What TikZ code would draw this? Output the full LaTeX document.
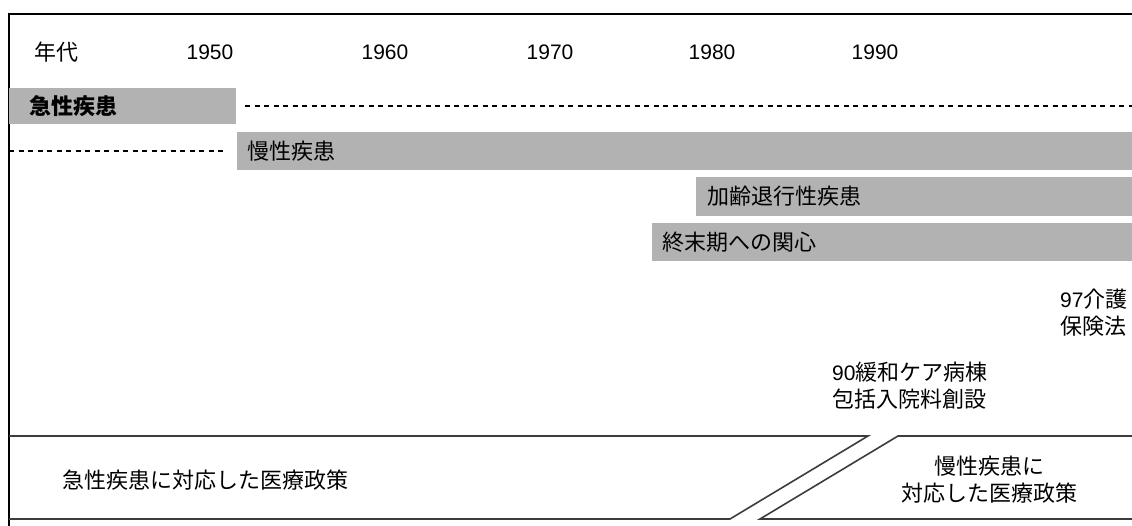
\documentclass[tikz,border=0pt]{standalone}
\usepackage{fontspec}
\setmainfont{Liberation Sans}
\newfontfamily\jpfamily{Noto Sans CJK JP}
\newcommand\jp{\jpfamily\fontsize{22}{27}\selectfont}
\usetikzlibrary{positioning}
\definecolor{bargray}{RGB}{178,178,178}
\definecolor{linegray}{RGB}{60,60,60}
\begin{document}
\begin{tikzpicture}
    [x=1pt, y=-1pt,
     txt/.style={inner sep=0pt, font=\fontsize{21}{27}\selectfont},
     barlabel/.style={txt, anchor=west},
     yearlabel/.style={txt},
     dotline/.style={line width=2.2pt, dash pattern=on 5pt off 4.5pt},
     band/.style={draw=linegray, line width=1.6pt}]
    \useasboundingbox (0,0) rectangle (1132,526);
    % frame
    \draw[line width=1.2pt] (9,526) -- (9,14) -- (1132,14);
    % time axis
    \node[barlabel] (era) at (34,52) {\jp 年代};
    \node[yearlabel] (y1950) at (210,52) {1950};
    \node[yearlabel] (y1960) at (385,52) {1960};
    \node[yearlabel] (y1970) at (550,52) {1970};
    \node[yearlabel] (y1980) at (712,52) {1980};
    \node[yearlabel] (y1990) at (875,52) {1990};
    % disease bars
    \fill[bargray] (9,88) rectangle (236,124);
    \node[barlabel] (acute) at (29,106) {\jp\bfseries 急性疾患};
    \coordinate (acuteend) at (1132,106);
    \draw[dotline] (245,106) -- (acuteend);
    \fill[bargray] (237,132) rectangle (1132,170);
    \node[barlabel] (chronic) at (247,151) {\jp 慢性疾患};
    \coordinate (chronicstart) at (9,151);
    \draw[dotline] (chronicstart) -- (226,151);
    \fill[bargray] (696,177) rectangle (1132,216);
    \node[barlabel] (aging) at (707,196) {\jp 加齢退行性疾患};
    \fill[bargray] (652,223) rectangle (1132,261);
    \node[barlabel] (terminal) at (662,242) {\jp 終末期への関心};
    % events
    \node[txt, align=left, anchor=west] (care) at (1060,313)
      {97{\jp 介護}\\{\jp 保険法}};
    \node[txt, align=left, anchor=west] (hospice) at (832,386)
      {90{\jp 緩和ケア病棟}\\{\jp 包括入院料創設}};
    % policy band
    \draw[band] (9,436) -- (868,436) -- (730,519) -- (9,519);
    \draw[band] (1132,436) -- (898,436) -- (760,519) -- (1132,519);
    \node[txt] (acutepolicy) at (205,480) {\jp 急性疾患に対応した医療政策};
    \node[txt, align=center] (chronicpolicy) at (989,480)
      {\jp 慢性疾患に\\\jp 対応した医療政策};
\end{tikzpicture}
\end{document}
